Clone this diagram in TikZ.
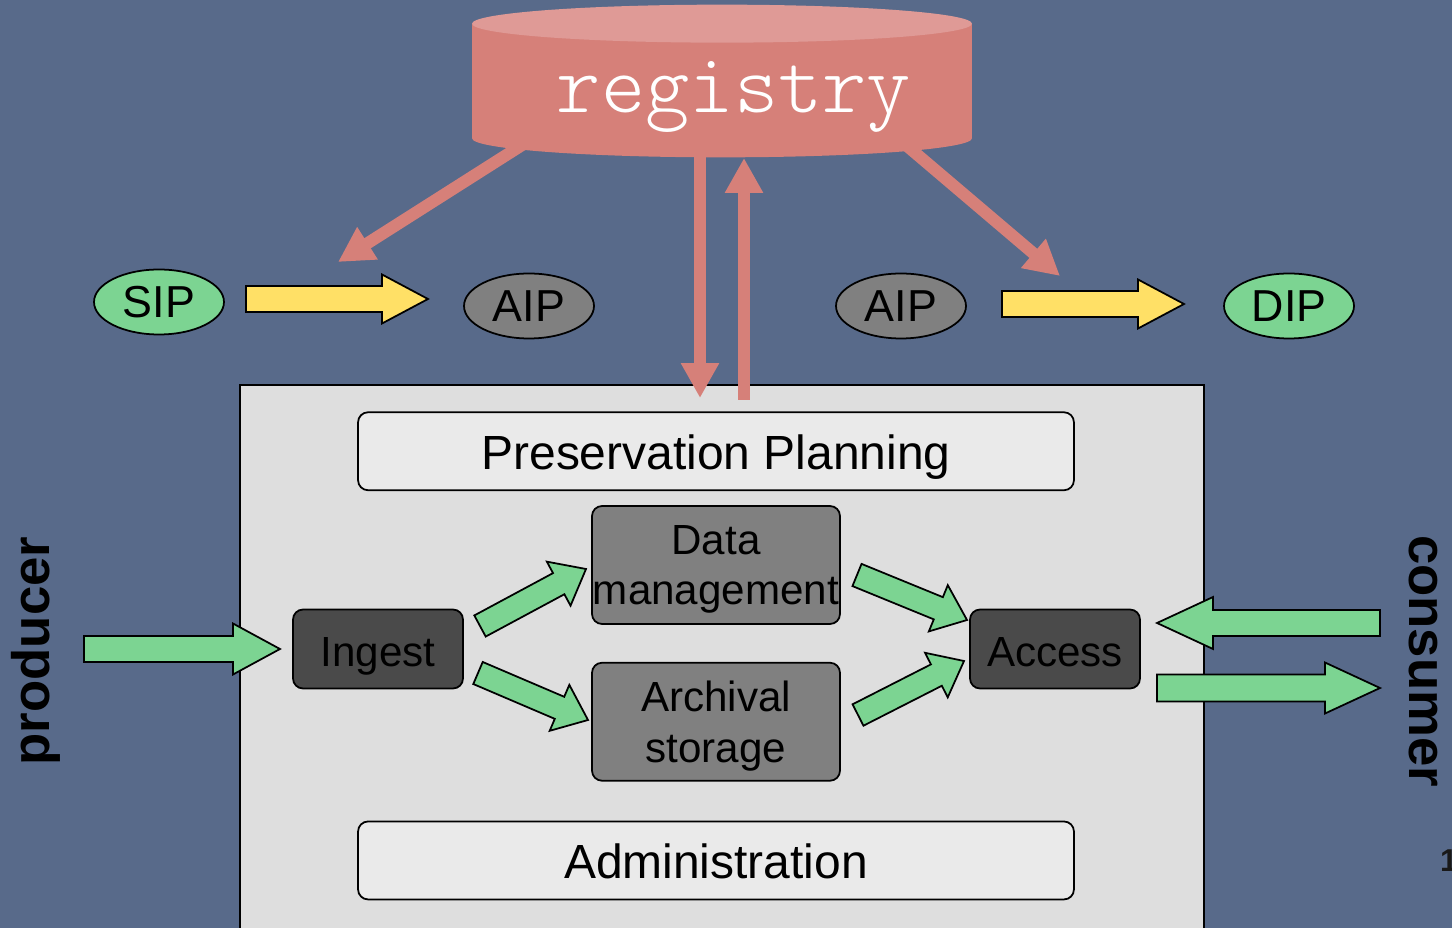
\documentclass[tikz,border=0pt]{standalone}
\usepackage{fontspec}
\setmainfont{Liberation Sans}
\newfontfamily\regfont{Latin Modern Mono Light}
\usepackage{tikz}
\usetikzlibrary{shapes}
\usetikzlibrary{arrows.meta}
\usetikzlibrary{positioning}
\usetikzlibrary{calc}
\definecolor{slideBg}{RGB}{88,106,138}
\definecolor{regBody}{RGB}{214,128,121}
\definecolor{regTop}{RGB}{223,154,150}
\definecolor{pkgGreen}{RGB}{124,212,146}
\definecolor{flowYellow}{RGB}{255,224,102}
\definecolor{boxLight}{RGB}{234,234,234}
\definecolor{boxBack}{RGB}{222,222,222}
\definecolor{boxMid}{RGB}{128,128,128}
\definecolor{boxDark}{RGB}{74,74,74}
\tikzstyle{pkg} = [ellipse, draw=black, line width=1pt, minimum width=2.6cm,
        minimum height=1.3cm, inner sep=0pt, font={\fontsize{25.5}{30}\selectfont}]
\tikzstyle{sipPkg} = [pkg, fill=pkgGreen]
\tikzstyle{aipPkg} = [pkg, fill=boxMid]
\tikzstyle{funcbox} = [rectangle, rounded corners=0.2cm, draw=black, line width=1pt,
        inner sep=0pt, align=center]
\tikzstyle{planbox} = [funcbox, fill=boxLight, minimum width=14.32cm, minimum height=1.56cm,
        text height=21pt, text depth=0pt, font={\fontsize{27.3}{32}\selectfont}]
\tikzstyle{storebox} = [funcbox, fill=boxMid, minimum width=4.96cm, minimum height=2.36cm,
        text depth=0pt, font={\fontsize{24}{28.5}\selectfont}]
\tikzstyle{servicebox} = [funcbox, fill=boxDark, minimum width=3.4cm, minimum height=1.58cm,
        text height=20pt, text depth=0pt, font={\fontsize{24}{29}\selectfont}]
\tikzstyle{oaisbox} = [rectangle, draw=black, line width=1pt, fill=boxBack, inner sep=0pt,
        minimum width=19.28cm, minimum height=11.2cm]
\tikzstyle{regcyl} = [rectangle, fill=regBody, inner sep=0pt, minimum width=10cm, minimum height=2.28cm]
\tikzstyle{regname} = [text=white, font={\regfont\fontsize{48}{56}\selectfont}]
\tikzstyle{regArrow} = [regBody, line width=0.24cm, -{Triangle[width=0.72cm,length=0.7cm]}]
\tikzstyle{rolelabel} = [font={\bfseries\fontsize{30}{36}\selectfont}]
\tikzstyle{pagenum} = [text=black!90, font={\rmfamily\bfseries\fontsize{18}{20}\selectfont}]
\tikzstyle{flow} = [draw=black, line width=1pt, line join=miter, fill=pkgGreen]
\tikzstyle{handover} = [flow, fill=flowYellow]
% fat outlined arrow: style, tail, tip, half shaft, half head, head length
\newcommand{\blockarrow}[6]{%
    \coordinate (ba-base) at ($(#3)!#6!(#2)$);
    \draw [#1] ($(#2)!#4!90:(#3)$) -- ($(ba-base)!#4!90:(#3)$) -- ($(ba-base)!#5!90:(#3)$)
        -- (#3) -- ($(ba-base)!#5!-90:(#3)$) -- ($(ba-base)!#4!-90:(#3)$)
        -- ($(#2)!#4!-90:(#3)$) -- cycle;
}
\begin{document}
\begin{tikzpicture}[x=0.02cm, y=-0.02cm]
            \useasboundingbox (0,0) rectangle (1452,928);
            \fill [slideBg] (0,0) rectangle (1452,928);

            \node [oaisbox, anchor=north] (oais) at (722,384) {};

            % registry links
            \coordinate (regL) at (530,140);
            \coordinate (regLtip) at (338,262);
            \coordinate (regR) at (900,140);
            \coordinate (regRtip) at (1060,276);
            \coordinate (regDown) at (700,140);
            \coordinate (regDowntip) at (700,398);
            \coordinate (regUp) at (744,400);
            \coordinate (regUptip) at (744,158);
            \draw [regArrow] (regL) -- (regLtip);
            \draw [regArrow] (regR) -- (regRtip);
            \draw [regArrow] (regDown) -- (regDowntip);
            \draw [regArrow] (regUp) -- (regUptip);

            \node [regcyl] (registry) at (722,81) {};
            \fill [regBody] (registry.south) ellipse [x radius=5cm, y radius=0.38cm];
            \fill [regTop] (registry.north) ellipse [x radius=5cm, y radius=0.38cm];
            \node [regname] (regtext) at (734,97) {registry};

            % packages
            \node [sipPkg] (sip) at (159,302) {SIP};
            \node [aipPkg] (aipIn) at (529,306) {AIP};
            \node [aipPkg] (aipOut) at (901,306) {AIP};
            \node [sipPkg] (dip) at (1289,306) {DIP};
            \coordinate (sipA) at (246,299);
            \coordinate (sipB) at (428,299);
            \coordinate (dipA) at (1002,304);
            \coordinate (dipB) at (1184,304);
            \blockarrow{handover}{sipA}{sipB}{0.26cm}{0.49cm}{0.92cm}
            \blockarrow{handover}{dipA}{dipB}{0.26cm}{0.49cm}{0.92cm}

            % functional entities
            \node [storebox] (dm) at (716,565) {Data\\management};
            \node [storebox, below=0.74cm of dm] (as) {Archival\\storage};
            \node [planbox, above=0.28cm of dm] (plan) {Preservation Planning};
            \node [planbox, below=0.78cm of as] (admin) {Administration};
            \node [servicebox] (ingest) at (378,649) {Ingest};
            \node [servicebox] (access) at (1055,649) {Access};

            \coordinate (ingDmA) at (480,626);
            \coordinate (ingDmB) at (586,569);
            \coordinate (ingAsA) at (478,673);
            \coordinate (ingAsB) at (588,720);
            \coordinate (dmAccA) at (857,575);
            \coordinate (dmAccB) at (967,620);
            \coordinate (asAccA) at (858,715);
            \coordinate (asAccB) at (964,661);
            \blockarrow{flow}{ingDmA}{ingDmB}{0.24cm}{0.5cm}{0.62cm}
            \blockarrow{flow}{ingAsA}{ingAsB}{0.24cm}{0.5cm}{0.62cm}
            \blockarrow{flow}{dmAccA}{dmAccB}{0.24cm}{0.5cm}{0.62cm}
            \blockarrow{flow}{asAccA}{asAccB}{0.24cm}{0.5cm}{0.62cm}

            % producer and consumer
            \node [rolelabel, rotate=90] (producer) at (36,651) {producer};
            \node [rolelabel, rotate=-90] (consumer) at (1423,661) {consumer};
            \coordinate (prodA) at (84,649);
            \coordinate (prodB) at (280,649);
            \coordinate (consInA) at (1380,623);
            \coordinate (consInB) at (1157,623);
            \coordinate (consOutA) at (1157,688);
            \coordinate (consOutB) at (1380,688);
            \blockarrow{flow}{prodA}{prodB}{0.26cm}{0.51cm}{0.94cm}
            \blockarrow{flow}{consInA}{consInB}{0.26cm}{0.52cm}{1.12cm}
            \blockarrow{flow}{consOutA}{consOutB}{0.27cm}{0.51cm}{1.1cm}

            \node [pagenum] (page) at (1449,861) {1};
        \end{tikzpicture}
\end{document}
